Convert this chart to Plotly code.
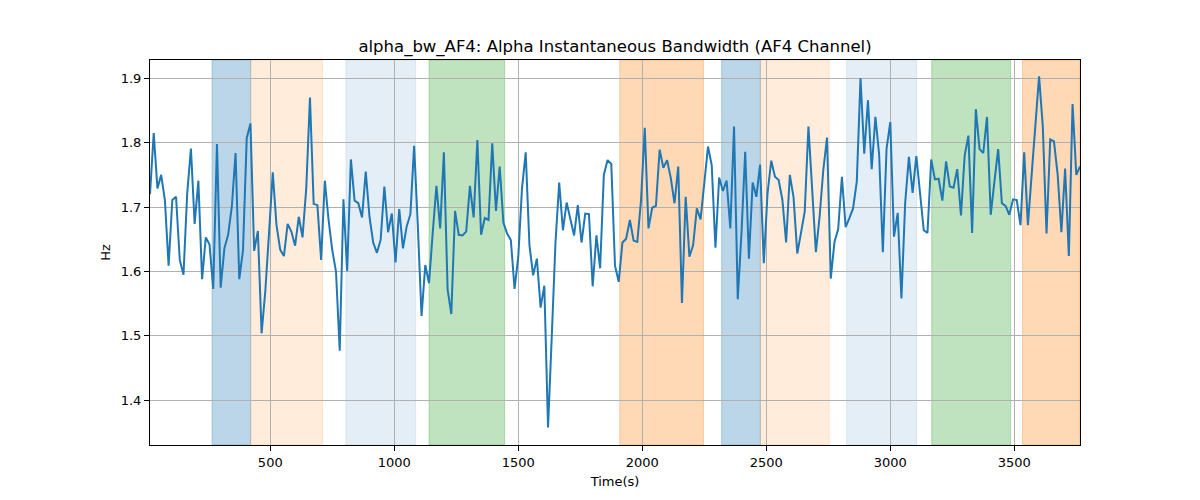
import numpy as np
import plotly.graph_objects as go

title = "alpha_bw_AF4: Alpha Instantaneous Bandwidth (AF4 Channel)"
t_start = 15
t_step = 15

bandwidth_hz = [
    1.720, 1.815, 1.729, 1.750, 1.711, 1.609, 1.711, 1.716, 1.618, 1.595,
    1.721, 1.791, 1.674, 1.741, 1.588, 1.653, 1.642, 1.573, 1.798, 1.575,
    1.636, 1.657, 1.701, 1.784, 1.588, 1.633, 1.807, 1.830, 1.632, 1.663,
    1.504, 1.570, 1.660, 1.754, 1.672, 1.634, 1.624, 1.674, 1.662, 1.640,
    1.685, 1.653,
    1.729, 1.870, 1.705, 1.703, 1.618, 1.741, 1.680, 1.633, 1.600, 1.477,
    1.712, 1.601, 1.774, 1.710, 1.706, 1.684, 1.755, 1.685, 1.645, 1.629,
    1.649, 1.732, 1.661, 1.690, 1.614, 1.697, 1.636, 1.670, 1.689, 1.795,
    1.670, 1.531, 1.610, 1.582, 1.660, 1.733, 1.667, 1.785, 1.572, 1.534,
    1.694,
    1.657, 1.656, 1.662, 1.733, 1.684, 1.804, 1.657, 1.683, 1.680, 1.799,
    1.694, 1.763, 1.676, 1.659, 1.649, 1.573, 1.623, 1.729, 1.785, 1.641,
    1.594, 1.620, 1.544, 1.578, 1.358, 1.499, 1.645, 1.738, 1.664, 1.707,
    1.681, 1.656, 1.703, 1.645, 1.690, 1.689, 1.577, 1.656, 1.605, 1.750,
    1.773, 1.767, 1.609,
    1.584, 1.645, 1.651, 1.680, 1.648, 1.646, 1.711, 1.823, 1.667, 1.699,
    1.702, 1.789, 1.761, 1.773, 1.745, 1.706, 1.763, 1.551, 1.716, 1.623,
    1.641, 1.698, 1.681, 1.737, 1.794, 1.765, 1.637, 1.746, 1.725, 1.741,
    1.667, 1.825, 1.557, 1.660, 1.786, 1.620, 1.738, 1.716, 1.766, 1.613,
    1.721,
    1.772, 1.747, 1.742, 1.711, 1.645, 1.750, 1.715, 1.628, 1.660, 1.693,
    1.825, 1.727, 1.630, 1.685, 1.758, 1.808, 1.589, 1.646, 1.666, 1.747,
    1.669, 1.683, 1.698, 1.740, 1.900, 1.783, 1.866, 1.759, 1.840, 1.782,
    1.630, 1.791, 1.832, 1.654, 1.691, 1.558, 1.706, 1.778, 1.722, 1.779,
    1.721, 1.664,
    1.660, 1.774, 1.743, 1.744, 1.710, 1.771, 1.732, 1.730, 1.759, 1.687,
    1.780, 1.811, 1.660, 1.852, 1.790, 1.784, 1.840, 1.688, 1.740, 1.790,
    1.706, 1.702, 1.688, 1.712, 1.711, 1.672, 1.785, 1.672, 1.750, 1.830,
    1.903, 1.825, 1.659, 1.805, 1.802, 1.750, 1.661, 1.760, 1.624, 1.860,
    1.750, 1.763,
]

band_starts = [265, 421, 805, 1140, 1909, 2320, 2476, 2824, 3167, 3533]
band_ends = [421, 711, 1086, 1445, 2247, 2476, 2754, 3106, 3485, 3765]
band_colors = [
    "rgba(31,119,180,0.30)", "rgba(255,127,14,0.15)", "rgba(31,119,180,0.12)",
    "rgba(44,160,44,0.30)", "rgba(255,127,14,0.30)",
    "rgba(31,119,180,0.30)", "rgba(255,127,14,0.15)", "rgba(31,119,180,0.12)",
    "rgba(44,160,44,0.30)", "rgba(255,127,14,0.30)",
]

x_range = [15, 3765]
y_range = [1.3306, 1.9284]
x_ticks = [500, 1000, 1500, 2000, 2500, 3000, 3500]
y_ticks = [1.4, 1.5, 1.6, 1.7, 1.8, 1.9]

times = t_start + t_step * np.arange(len(bandwidth_hz))

fig = go.Figure()
fig.add_trace(go.Scatter(x=times, y=bandwidth_hz, mode="lines",
                         line=dict(color="#1f77b4", width=2), showlegend=False))

shapes = []
for s, e, c in zip(band_starts, band_ends, band_colors):
    shapes.append(dict(type="rect", xref="x", yref="paper", x0=s, x1=e, y0=0, y1=1,
                       fillcolor=c, line=dict(width=1, color=c), layer="below"))
fig.update_layout(shapes=shapes)

font = "DejaVu Sans"
fig.update_layout(
    width=1200, height=500,
    margin=dict(l=150, r=120, t=60, b=55),
    paper_bgcolor="white", plot_bgcolor="white",
    font=dict(family=font, size=13, color="black"),
    title=dict(text=title, x=0.5, xref="paper", xanchor="center",
               y=1 - 46 / 500, yanchor="middle", font=dict(size=16.5, family=font)),
    xaxis=dict(range=x_range, tickvals=x_ticks, showgrid=True, gridcolor="#b0b0b0",
               gridwidth=0.8, showline=True, linecolor="black", linewidth=1, mirror=True,
               ticks="outside", ticklen=5, tickcolor="black",
               title=dict(text="Time(s)", font=dict(size=13), standoff=8), zeroline=False),
    yaxis=dict(range=y_range, tickvals=y_ticks, tickformat=".1f", showgrid=True,
               gridcolor="#b0b0b0", gridwidth=0.8, showline=True, linecolor="black",
               linewidth=1, mirror=True, ticks="outside", ticklen=5, tickcolor="black",
               title=dict(text="Hz", font=dict(size=13), standoff=7), zeroline=False),
)

fig.write_html("out.html")
